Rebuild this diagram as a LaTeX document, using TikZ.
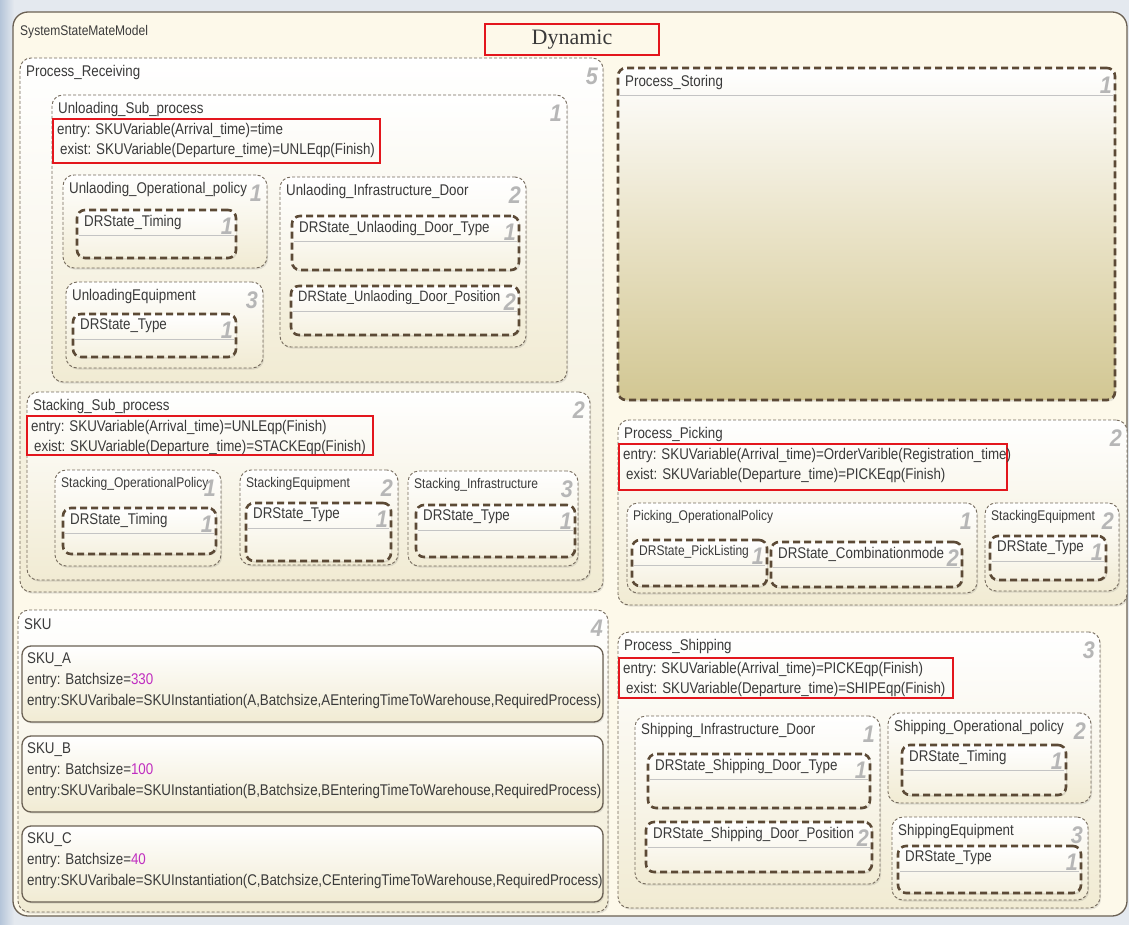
\documentclass[tikz,border=0pt]{standalone}
\usepackage{fontspec}
\setmainfont{Liberation Sans}[FakeStretch=0.86]
\newfontfamily\numfont{Liberation Sans}[FakeStretch=0.9]
\newfontfamily\titlefont{Liberation Serif}
\usetikzlibrary{shadows}

\definecolor{cream}{HTML}{FDF9EA}
\definecolor{framec}{HTML}{6B6154}
\definecolor{dashbrown}{HTML}{5C4A36}
\definecolor{thinb}{HTML}{74695B}
\definecolor{boxlow}{HTML}{F1EBD3}
\definecolor{khaki}{HTML}{D2C793}
\definecolor{khakimid}{HTML}{E9E2C6}
\definecolor{numgray}{HTML}{B6B6B6}
\definecolor{txt}{HTML}{3A3A3A}
\definecolor{mag}{HTML}{C02EC0}
\definecolor{redline}{HTML}{E3161D}
\definecolor{bgtop}{HTML}{E4E9EF}
\definecolor{bgleft}{HTML}{B5C5D9}
\definecolor{sepc}{HTML}{C4C4C4}

\tikzset{
  x=1pt, y=-1pt,
  softshadow/.style={drop shadow={opacity=0.16, shadow xshift=1.2pt, shadow yshift=-1.6pt, fill=black!60}},
  frame/.style={draw=framec, line width=1.3pt, rounded corners=15pt, fill=cream, inner sep=0pt, outer sep=0pt},
  container/.style={draw=thinb, line width=0.9pt, dash pattern=on 3pt off 2pt, rounded corners=11pt,
    top color=white, bottom color=boxlow, softshadow, inner sep=0pt, outer sep=0pt},
  drstate/.style={draw=dashbrown, line width=2.6pt, dash pattern=on 7pt off 4pt, rounded corners=8pt,
    top color=white, bottom color=boxlow!70, softshadow, inner sep=0pt, outer sep=0pt},
  storing/.style={drstate, top color=white, bottom color=khaki, middle color=khakimid},
  skubox/.style={draw=framec, line width=1.3pt, rounded corners=9pt, top color=white, bottom color=boxlow,
    softshadow, inner sep=0pt, outer sep=0pt},
  redbox/.style={draw=redline, line width=1.8pt, inner sep=0pt, outer sep=0pt},
  sepline/.style={draw=sepc, line width=0.8pt},
  lbl/.style={font=\fontsize{15.5}{17}\selectfont, text=txt, inner sep=0pt},
  num/.style={font=\numfont\bfseries\itshape\fontsize{24}{24}\selectfont, text=numgray, inner sep=0pt}
}
% narrower label set for tight boxes
\newcommand\tight{\fontsize{14}{16}\selectfont}

% state container: style, name, x1, y1, x2, y2, label, number
\newcommand\cbox[8]{%
  \node[#1, anchor=north west, minimum width={(#5)-(#3)}, minimum height={(#6)-(#4)}] (#2) at (#3,#4) {};
  \node[lbl, anchor=west] (#2-l) at ([xshift=6pt,yshift=-14pt]#2.north west) {#7};
  \node[num, anchor=east] (#2-n) at ([xshift=-5pt,yshift=-18pt]#2.north east) {#8};
}
% DR state with header line: name, x1, y1, x2, y2, label, number
\newcommand\drbox[7]{%
  \node[drstate, anchor=north west, minimum width={(#4)-(#2)}, minimum height={(#5)-(#3)}] (#1) at (#2,#3) {};
  \draw[sepline] ([xshift=2pt,yshift=-25pt]#1.north west) -- ([xshift=-2pt,yshift=-25pt]#1.north east);
  \node[lbl, anchor=west] (#1-l) at ([xshift=7pt,yshift=-12pt]#1.north west) {#6};
  \node[num, anchor=east] (#1-n) at ([xshift=-3pt,yshift=-16pt]#1.north east) {#7};
}
% red action box with entry / exist lines: name, x1, y1, x2, y2, entry, exist
\newcommand\actbox[7]{%
  \node[redbox, anchor=north west, minimum width={(#4)-(#2)}, minimum height={(#5)-(#3)}] (#1) at (#2,#3) {};
  \node[lbl, anchor=west] (#1-a) at ([xshift=4pt,yshift=-11pt]#1.north west) {#6};
  \node[lbl, anchor=west] (#1-b) at ([xshift=7pt,yshift=-31pt]#1.north west) {#7};
}

\begin{document}
\begin{tikzpicture}
\useasboundingbox (0,0) rectangle (1129,925);
\fill[bgtop] (0,0) rectangle (1129,925);
\shade[left color=bgleft, right color=bgtop] (0,0) rectangle (14,925);

% top level chart
\node[frame, anchor=north west, minimum width=1114, minimum height=904] (sys) at (13,12) {};
\node[lbl, anchor=west, font=\fontsize{14}{16}\selectfont] (sys-l) at ([xshift=7pt,yshift=-20pt]sys.north west) {SystemStateMateModel};
\node[redbox, anchor=north west, minimum width=174, minimum height=31] (dyn) at (485,24) {};
\node[font=\titlefont\fontsize{22}{24}\selectfont, text=txt, inner sep=0pt] at (dyn.center) {Dynamic};

% receiving
\cbox{container}{recv}{20}{58}{603}{592}{Process\_Receiving}{5}
\cbox{container}{unl}{52}{95}{567}{382}{Unloading\_Sub\_process}{1}
\actbox{unlact}{53}{119}{380}{163}{entry: SKUVariable(Arrival\_time)=time}{exist: SKUVariable(Departure\_time)=UNLEqp(Finish)}
\cbox{container}{unlop}{63}{175}{267}{268}{Unlaoding\_Operational\_policy}{1}
\drbox{unltim}{77}{210}{236}{258}{DRState\_Timing}{1}
\cbox{container}{unleq}{66}{282}{263}{368}{UnloadingEquipment}{3}
\drbox{unltyp}{73}{314}{236}{357}{DRState\_Type}{1}
\cbox{container}{unlinf}{280}{177}{526}{347}{Unlaoding\_Infrastructure\_Door}{2}
\drbox{unldt}{292}{216}{519}{270}{DRState\_Unlaoding\_Door\_Type}{1}
\drbox{unldp}{291}{286}{519}{335}{{\fontsize{15}{17}\selectfont DRState\_Unlaoding\_Door\_Position}}{2}

\cbox{container}{stk}{27}{392}{590}{580}{Stacking\_Sub\_process}{2}
\actbox{stkact}{27}{416}{373}{455}{entry: SKUVariable(Arrival\_time)=UNLEqp(Finish)}{exist: SKUVariable(Departure\_time)=STACKEqp(Finish)}
\cbox{container}{stkop}{55}{470}{221}{566}{{\tight Stacking\_OperationalPolicy}}{1}
\drbox{stktim}{63}{508}{216}{554}{DRState\_Timing}{1}
\cbox{container}{stkeq}{240}{470}{398}{565}{{\tight StackingEquipment}}{2}
\drbox{stkeqt}{246}{503}{391}{561}{DRState\_Type}{1}
\cbox{container}{stkinf}{408}{471}{578}{566}{{\tight Stacking\_Infrastructure}}{3}
\drbox{stkinft}{416}{505}{575}{557}{DRState\_Type}{1}

% storing
\node[storing, anchor=north west, minimum width=497, minimum height=332] (sto) at (618,68) {};
\draw[sepline] ([xshift=2pt,yshift=-27pt]sto.north west) -- ([xshift=-2pt,yshift=-27pt]sto.north east);
\node[lbl, anchor=west] (sto-l) at ([xshift=7pt,yshift=-14pt]sto.north west) {Process\_Storing};
\node[num, anchor=east] (sto-n) at ([xshift=-3pt,yshift=-17pt]sto.north east) {1};

% picking
\cbox{container}{pick}{618}{420}{1127}{605}{Process\_Picking}{2}
\actbox{pickact}{619}{444}{1007}{490}{entry: SKUVariable(Arrival\_time)=OrderVarible(Registration\_time)}{exist: SKUVariable(Departure\_time)=PICKEqp(Finish)}
\cbox{container}{pickop}{627}{503}{977}{593}{{\tight Picking\_OperationalPolicy}}{1}
\drbox{pickpl}{632}{540}{767}{586}{{\tight DRState\_PickListing}}{1}
\drbox{pickcm}{771}{542}{962}{587}{DRState\_Combinationmode}{2}
\cbox{container}{pickeq}{985}{503}{1119}{591}{{\tight StackingEquipment}}{2}
\drbox{pickeqt}{990}{536}{1106}{580}{DRState\_Type}{1}

% shipping
\cbox{container}{ship}{618}{632}{1100}{908}{Process\_Shipping}{3}
\actbox{shipact}{619}{658}{953}{698}{entry: SKUVariable(Arrival\_time)=PICKEqp(Finish)}{exist: SKUVariable(Departure\_time)=SHIPEqp(Finish)}
\cbox{container}{shipinf}{635}{716}{880}{884}{Shipping\_Infrastructure\_Door}{1}
\drbox{shipdt}{648}{754}{870}{808}{DRState\_Shipping\_Door\_Type}{1}
\drbox{shipdp}{646}{822}{872}{872}{DRState\_Shipping\_Door\_Position}{2}
\cbox{container}{shipop}{888}{713}{1091}{803}{Shipping\_Operational\_policy}{2}
\drbox{shiptim}{902}{745}{1066}{795}{DRState\_Timing}{1}
\cbox{container}{shipeq}{892}{817}{1088}{900}{ShippingEquipment}{3}
\drbox{shipeqt}{898}{846}{1081}{893}{DRState\_Type}{1}

% SKU definitions
\cbox{container}{sku}{18}{610}{608}{912}{SKU}{4}
\foreach \n/\y/\b/\letter in {A/646/330/A, B/736/100/B, C/826/40/C}{
  \node[skubox, anchor=north west, minimum width=581, minimum height=76] (sku\n) at (22,\y) {};
  \node[lbl, anchor=west] (sku\n-l) at ([xshift=5pt,yshift=-14pt]sku\n.north west) {SKU\_\n};
  \node[lbl, anchor=west] (sku\n-b) at ([xshift=5pt,yshift=-34pt]sku\n.north west) {entry: Batchsize=\textcolor{mag}{\b}};
  \node[lbl, anchor=west] (sku\n-i) at ([xshift=5pt,yshift=-55pt]sku\n.north west)
    {entry:SKUVaribale=SKUInstantiation(\letter,Batchsize,\letter EnteringTimeToWarehouse,RequiredProcess)};
}
\end{tikzpicture}
\end{document}
